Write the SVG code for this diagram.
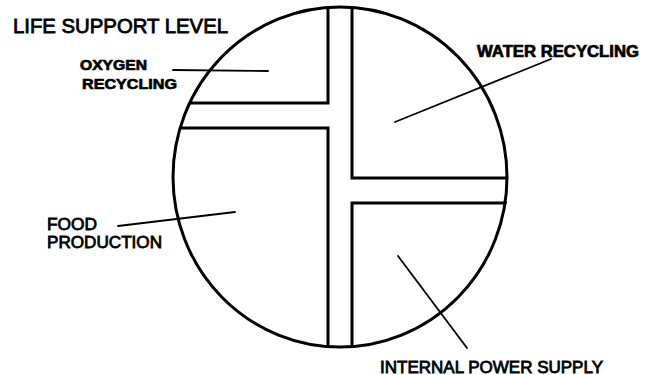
<svg xmlns="http://www.w3.org/2000/svg" width="651" height="375" viewBox="0 0 651 375">
<style>
.wall{fill:none;stroke:#000;stroke-width:3;stroke-linejoin:miter}
.rim{fill:none;stroke:#000;stroke-width:3}
.lead{fill:none;stroke:#000;stroke-width:1.8;stroke-linecap:round}
.t{font-family:"Liberation Sans",Arial,sans-serif;fill:#000;stroke:#000;stroke-width:0.8}
.b{font-weight:bold;stroke-width:0.7}
</style>
<rect width="651" height="375" fill="#fff"/>
<g id="habitat">
<ellipse class="rim" cx="340" cy="177" rx="167" ry="170"/>
</g>
<g id="walls">
<polyline class="wall" points="189.7,103 328,103 328,7.5"/>
<polyline class="wall" points="180,128 328,128 328,346.5"/>
<polyline class="wall" points="352,7.5 352,178 507,178"/>
<polyline class="wall" points="506.7,203 352,203 352,346.5"/>
</g>
<g id="connectors">
<line class="lead" x1="173" y1="70" x2="268" y2="71"/>
<line class="lead" x1="395" y1="122" x2="551" y2="59"/>
<line class="lead" x1="118" y1="226" x2="235" y2="212"/>
<line class="lead" x1="398" y1="256" x2="467" y2="348"/>
</g>
<g id="title">
<text class="t" x="13" y="32.5" font-size="20" textLength="215" lengthAdjust="spacingAndGlyphs">LIFE SUPPORT LEVEL</text>
</g>
<g id="oxygen-recycling">
<text class="t b" x="80" y="70" font-size="15" textLength="67" lengthAdjust="spacingAndGlyphs">OXYGEN</text>
<text class="t b" x="82" y="89" font-size="15" textLength="95" lengthAdjust="spacingAndGlyphs">RECYCLING</text>
</g>
<g id="water-recycling">
<text class="t b" x="477" y="57" font-size="16" textLength="162" lengthAdjust="spacingAndGlyphs">WATER RECYCLING</text>
</g>
<g id="food-production">
<text class="t" x="47" y="230" font-size="17" textLength="50" lengthAdjust="spacingAndGlyphs">FOOD</text>
<text class="t" x="47" y="248" font-size="17" textLength="115" lengthAdjust="spacingAndGlyphs">PRODUCTION</text>
</g>
<g id="internal-power-supply">
<text class="t" x="380" y="372.5" font-size="17" textLength="223" lengthAdjust="spacingAndGlyphs">INTERNAL POWER SUPPLY</text>
</g>
</svg>
